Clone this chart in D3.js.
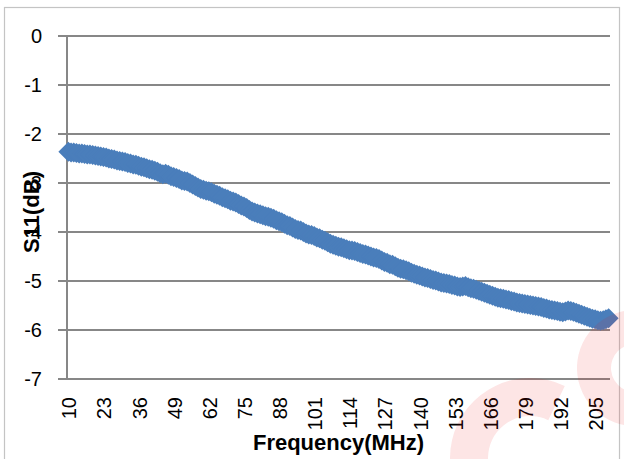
<!DOCTYPE html>
<html>
<head>
<meta charset="utf-8">
<script src="https://cdn.jsdelivr.net/npm/d3@7"></script>
<style>
  html, body { margin: 0; padding: 0; background: #fff; }
  svg { display: block; }
</style>
</head>
<body>
<svg id="chart" width="624" height="459"></svg>
<script>
// ---- data ----
const frequencies = d3.range(10, 211); // MHz, 1 MHz step (categories)
const s11 = [
  -2.36,-2.38,-2.38,-2.39,-2.40,-2.40,-2.41,-2.42,-2.42,-2.43,
  -2.44,-2.45,-2.46,-2.47,-2.48,-2.50,-2.51,-2.52,-2.54,-2.55,
  -2.56,-2.57,-2.59,-2.60,-2.62,-2.63,-2.65,-2.67,-2.68,-2.70,
  -2.72,-2.73,-2.75,-2.77,-2.80,-2.82,-2.81,-2.83,-2.86,-2.88,
  -2.90,-2.92,-2.95,-2.96,-2.97,-3.00,-3.03,-3.06,-3.09,-3.12,
  -3.14,-3.16,-3.17,-3.19,-3.22,-3.24,-3.26,-3.29,-3.31,-3.33,
  -3.36,-3.38,-3.40,-3.43,-3.46,-3.48,-3.51,-3.55,-3.58,-3.60,
  -3.62,-3.64,-3.66,-3.68,-3.69,-3.71,-3.73,-3.76,-3.78,-3.80,
  -3.83,-3.86,-3.88,-3.91,-3.94,-3.96,-3.97,-4.00,-4.03,-4.05,
  -4.06,-4.08,-4.11,-4.13,-4.16,-4.18,-4.21,-4.24,-4.26,-4.28,
  -4.30,-4.31,-4.33,-4.35,-4.37,-4.38,-4.39,-4.41,-4.43,-4.45,
  -4.46,-4.48,-4.50,-4.52,-4.53,-4.55,-4.58,-4.61,-4.63,-4.66,
  -4.67,-4.70,-4.73,-4.75,-4.76,-4.78,-4.80,-4.83,-4.85,-4.87,
  -4.89,-4.91,-4.93,-4.94,-4.96,-4.98,-4.99,-5.01,-5.03,-5.04,
  -5.05,-5.06,-5.08,-5.09,-5.11,-5.12,-5.11,-5.10,-5.13,-5.15,
  -5.16,-5.18,-5.20,-5.22,-5.24,-5.26,-5.28,-5.30,-5.32,-5.34,
  -5.35,-5.36,-5.38,-5.39,-5.41,-5.42,-5.44,-5.45,-5.46,-5.47,
  -5.48,-5.49,-5.50,-5.51,-5.52,-5.53,-5.55,-5.56,-5.58,-5.59,
  -5.60,-5.61,-5.63,-5.64,-5.62,-5.60,-5.61,-5.63,-5.65,-5.67,
  -5.69,-5.71,-5.73,-5.75,-5.77,-5.78,-5.80,-5.81,-5.80,-5.78,-5.76
];
const xTickLabels = [10, 23, 36, 49, 62, 75, 88, 101, 114, 127, 140, 153, 166, 179, 192, 205];
const yTicks = [0, -1, -2, -3, -4, -5, -6, -7];

// ---- layout ----
const svg = d3.select("#chart");
const L = 67, R = 610, T = 36, B = 379;
const font = "'Liberation Sans', Arial, sans-serif";
const gridColor = "#878787";
const blue = "#4A7EBB";

const x = d3.scaleBand().domain(frequencies).range([L, R]).padding(0);
const y = d3.scaleLinear().domain([-7, 0]).range([B, T]);
const cx = f => x(f) + x.bandwidth() / 2;

// outer chart border
svg.append("rect")
  .attr("x", 4.5).attr("y", 7.5).attr("width", 615).attr("height", 470)
  .attr("fill", "none").attr("stroke", "#c4c4c4").attr("stroke-width", 1.2);

// gridlines + y tick marks
svg.append("g").selectAll("line").data(yTicks).join("line")
  .attr("x1", L - 9).attr("x2", R)
  .attr("y1", d => Math.round(y(d))).attr("y2", d => Math.round(y(d)))
  .attr("stroke", gridColor).attr("stroke-width", 2);

// vertical axis line
svg.append("line")
  .attr("x1", L).attr("x2", L).attr("y1", T).attr("y2", B)
  .attr("stroke", gridColor).attr("stroke-width", 2);

// y tick labels
svg.append("g").selectAll("text").data(yTicks).join("text")
  .attr("x", 42).attr("y", d => y(d)).attr("dy", "0.35em")
  .attr("text-anchor", "end")
  .attr("font-family", font).attr("font-size", 20).attr("fill", "#000")
  .text(d => d);

// x tick labels (rotated)
svg.append("g").selectAll("text").data(xTickLabels).join("text")
  .attr("transform", d => `translate(${cx(d) + 1},${B + 18}) rotate(-90)`)
  .attr("dy", "0.35em")
  .attr("text-anchor", "end")
  .attr("font-family", font).attr("font-size", 20).attr("fill", "#000")
  .text(d => d);

// series line
const pts = frequencies.map((f, i) => [f, s11[i]]);
svg.append("path")
  .datum(pts)
  .attr("d", d3.line().x(d => cx(d[0])).y(d => y(d[1])))
  .attr("fill", "none").attr("stroke", blue).attr("stroke-width", 2.5);

// diamond markers
const r = 10;
svg.append("g").selectAll("path").data(pts).join("path")
  .attr("transform", d => `translate(${cx(d[0])},${y(d[1])})`)
  .attr("d", `M0,${-r}L${r},0L0,${r}L${-r},0Z`)
  .attr("fill", blue);

// axis titles
svg.append("text")
  .attr("x", (L + R) / 2).attr("y", 450)
  .attr("text-anchor", "middle")
  .attr("font-family", font).attr("font-size", 22).attr("font-weight", "bold")
  .text("Frequency(MHz)");

svg.append("text")
  .attr("transform", "translate(39,212) rotate(-90)")
  .attr("text-anchor", "middle")
  .attr("font-family", font).attr("font-size", 22).attr("font-weight", "bold")
  .text("S11(dB)");

// faint watermark shapes (bottom-right)
const wm = svg.append("g").attr("fill", "rgb(235,20,20)").attr("fill-opacity", 0.11);
wm.append("path")
  .attr("transform", "translate(530,458)")
  .attr("d", d3.arc().innerRadius(42).outerRadius(80).startAngle(-Math.PI).endAngle(0.45)());
wm.append("path")
  .attr("transform", "translate(635,368)")
  .attr("d", d3.arc().innerRadius(24).outerRadius(58).startAngle(-Math.PI * 1.1).endAngle(0.1)());
</script>
</body>
</html>
